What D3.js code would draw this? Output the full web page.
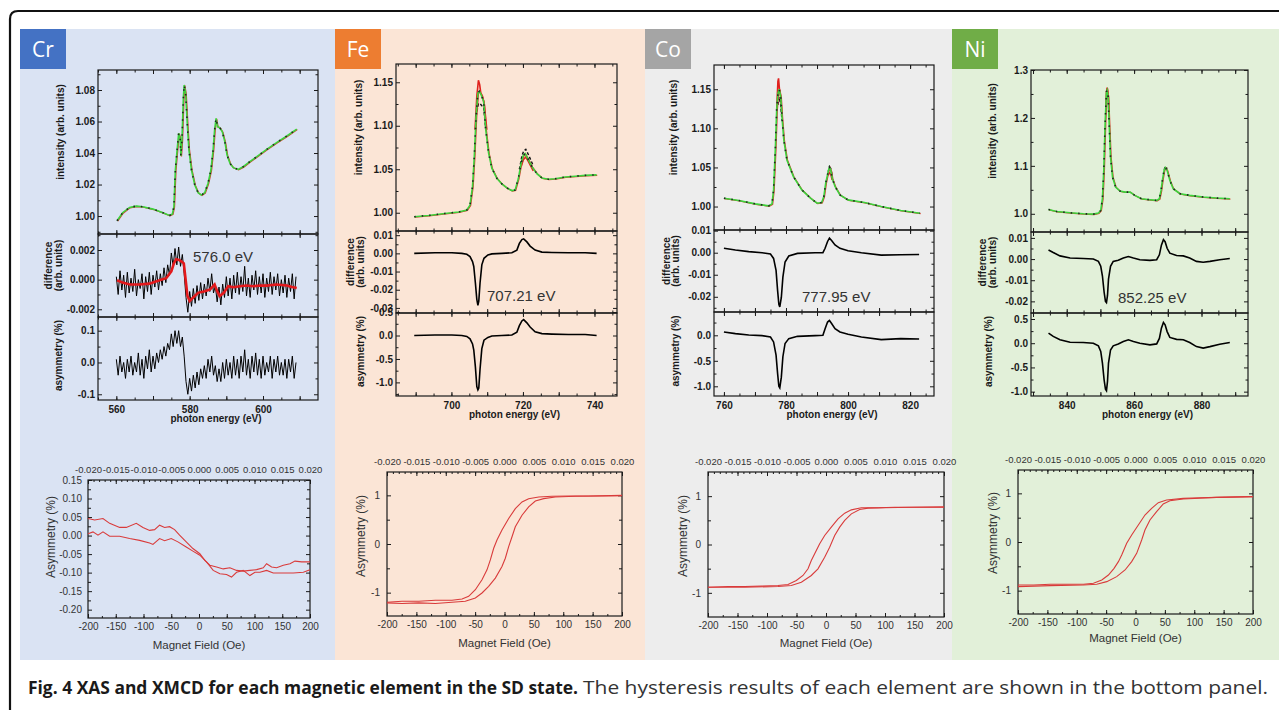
<!DOCTYPE html>
<html>
<head>
<meta charset="utf-8">
<script src="https://cdn.jsdelivr.net/npm/d3@7/dist/d3.min.js"></script>
<style>
  body { margin: 0; background: #fff; }
  svg { display: block; }
</style>
</head>
<body>
<script>

var W = 1279, H = 710;
var FONT = '"Liberation Sans", Arial, sans-serif';

// ---- labels ----
var elements = ['Cr', 'Fe', 'Co', 'Ni'];
var edgeLabels = ['576.0 eV', '707.21 eV', '777.95 eV', '852.25 eV'];
var captionBold = 'Fig. 4 XAS and XMCD for each magnetic element in the SD state.';
var captionRest = 'The hysteresis results of each element are shown in the bottom panel.';

// ---- tick labels ----
var crEnergyTicks = [560, 580, 600];
var feEnergyTicks = [700, 720, 740];
var coEnergyTicks = [760, 780, 800, 820];
var niEnergyTicks = [840, 860, 880];

var crIntTicks = [1.00, 1.02, 1.04, 1.06, 1.08];
var crDiffTicks = [-0.002, 0.000, 0.002];
var crAsymTicks = [-0.1, 0.0, 0.1];
var feIntTicks = [1.00, 1.05, 1.10, 1.15];
var feDiffTicks = [-0.03, -0.02, -0.01, 0.00, 0.01];
var feAsymTicks = [-1.0, -0.5, 0.0, 0.5];
var coIntTicks = [1.00, 1.05, 1.10, 1.15];
var coDiffTicks = [-0.02, -0.01, 0.00, 0.01];
var coAsymTicks = [-1.0, -0.5, 0.0];
var niIntTicks = [1.0, 1.1, 1.2, 1.3];
var niDiffTicks = [-0.02, -0.01, 0.00, 0.01];
var niAsymTicks = [-1.0, -0.5, 0.0, 0.5];

var fieldTicks = [-200, -150, -100, -50, 0, 50, 100, 150, 200];
var teslaTicks = [-0.020, -0.015, -0.010, -0.005, 0.000, 0.005, 0.010, 0.015, 0.020];
var crHystTicks = [-0.20, -0.15, -0.10, -0.05, 0.00, 0.05, 0.10, 0.15];
var hystTicks = [-1, 0, 1];

// ---- Cr spectra ----
var crIntensity = [[560.2,0.997],[561.7,1.0021],[563.6,1.0055],[565.4,1.0063],[567.2,1.0059],[570.0,1.0044],[572.7,1.0021],[574.5,1.0004],[575.3,1.0013],[575.7,1.0059],[576.1,1.0292],[576.5,1.0398],[577.0,1.0525],[577.4,1.0493],[577.6,1.0381],[577.9,1.0482],[578.3,1.0758],[578.5,1.0832],[578.9,1.0779],[579.4,1.0567],[579.8,1.0419],[580.5,1.0292],[581.4,1.0197],[582.3,1.0148],[583.2,1.0133],[584.1,1.0148],[585.0,1.0207],[585.8,1.0292],[586.4,1.0419],[586.8,1.0546],[587.2,1.0620],[587.6,1.0567],[588.2,1.0561],[588.9,1.0535],[589.6,1.0472],[590.2,1.0387],[591.0,1.0334],[591.9,1.0307],[593.2,1.0296],[594.6,1.0313],[596.4,1.0345],[598.3,1.0377],[601.0,1.0423],[603.7,1.0466],[606.5,1.0508],[609.2,1.0552]];
// raw points every 0.5 eV from 560 eV
var crRawStart = 560, crRawStep = 0.5;
var crDiffRaw = [0.0002,-0.0010,0.0006,-0.0007,0.0003,-0.0012,0.0005,-0.0009,0.0001,-0.0008,
  0.0007,-0.0011,0.0000,-0.0006,0.0004,-0.0013,0.0002,-0.0008,0.0005,-0.0010,
  0.0003,-0.0005,0.0006,-0.0007,0.0004,-0.0004,0.0008,-0.0002,0.0010,0.0003,
  0.0018,0.0009,0.0021,0.0010,0.0022,0.0009,0.0017,0.0004,-0.0012,-0.0022,
  -0.0008,-0.0018,-0.0006,-0.0016,-0.0004,-0.0014,-0.0002,-0.0013,-0.0003,-0.0011,
  0.0001,-0.0008,0.0004,-0.0009,-0.0004,-0.0015,-0.0005,-0.0017,-0.0003,-0.0012,
  0.0002,-0.0011,0.0001,-0.0013,0.0003,-0.0009,0.0005,-0.0010,0.0002,-0.0008,
  0.0009,-0.0011,0.0001,-0.0012,0.0003,-0.0007,0.0006,-0.0010,0.0002,-0.0009,
  0.0004,-0.0012,0.0001,-0.0008,0.0005,-0.0010,0.0002,-0.0007,0.0004,-0.0011,
  0.0000,-0.0009,0.0003,-0.0012,0.0001,-0.0008,0.0004,-0.0013,0.0002];
var crDiffSmooth = [[560.2,-0.00004],[561.7,-0.0002],[563.6,-0.00033],[566.3,-0.00033],[569.0,-0.00027],[571.8,-0.00004],[573.6,0.0001],[575.0,0.00056],[575.7,0.0011],[576.3,0.00138],[577.1,0.00133],[577.8,0.00122],[578.4,0.0011],[578.8,0.00022],[579.4,-0.0011],[580.0,-0.00144],[580.9,-0.00122],[582.3,-0.00089],[584.1,-0.00078],[585.5,-0.00067],[586.4,-0.00044],[586.8,-0.00033],[587.5,-0.00078],[588.2,-0.0011],[589.3,-0.00089],[590.5,-0.00044],[591.9,-0.00051],[593.7,-0.00044],[595.5,-0.0004],[597.3,-0.00044],[599.2,-0.0004],[601.0,-0.0004],[603.7,-0.00033],[606.5,-0.0004],[607.9,-0.00049],[609.2,-0.00056]];
var crAsymRaw = [0.01,-0.04,0.02,-0.03,0.00,-0.05,0.01,-0.03,0.02,-0.04,
  0.00,-0.03,0.03,-0.04,0.01,-0.05,0.02,-0.02,0.04,-0.03,
  0.02,-0.02,0.03,0.00,0.04,0.01,0.05,0.02,0.06,0.04,
  0.09,0.05,0.10,0.06,0.10,0.05,0.08,0.02,-0.06,-0.10,
  -0.05,-0.09,-0.04,-0.08,-0.03,-0.07,-0.02,-0.05,-0.01,-0.05,
  0.01,-0.03,0.02,-0.04,-0.01,-0.06,-0.02,-0.06,0.00,-0.05,
  0.01,-0.04,0.00,-0.05,0.02,-0.04,0.01,-0.05,0.02,-0.03,
  0.04,-0.04,0.01,-0.05,0.02,-0.03,0.03,-0.04,0.01,-0.05,
  0.02,-0.04,0.00,-0.03,0.02,-0.05,0.01,-0.03,0.02,-0.04,
  0.00,-0.04,0.01,-0.05,0.01,-0.03,0.02,-0.05,0.00];

// ---- Fe spectra ----
var feIntensity = [[689.6,0.9954],[693.6,0.9969],[698.2,0.9992],[702.0,1.0008],[704.3,1.0031],[705.2,1.0088],[705.9,1.030],[706.4,1.0646],[706.9,1.1108],[707.4,1.1377],[707.8,1.1396],[708.3,1.1358],[709.0,1.128],[709.6,1.0954],[710.4,1.0685],[711.3,1.0512],[712.7,1.0396],[714.1,1.0331],[715.5,1.0285],[716.9,1.0255],[717.8,1.026],[718.7,1.039],[719.5,1.057],[720.1,1.066],[720.6,1.068],[721.4,1.062],[722.5,1.053],[723.9,1.045],[725.3,1.040],[727.1,1.0385],[729.0,1.039],[731.8,1.041],[734.6,1.042],[737.4,1.043],[740.6,1.0435]];
var fePlusPeaks = [[[706.6,1.0954],[707.1,1.1338],[707.55,1.1523],[707.9,1.1473],[708.2,1.1377],[708.7,1.1338],[709.2,1.1242],[709.9,1.0954]],
  [[719.5,1.053],[720.1,1.061],[720.8,1.064],[721.5,1.059],[722.9,1.048]]];
var feMinusPeaks = [[[706.9,1.1108],[707.55,1.1254],[708.0,1.1254],[708.5,1.123],[709.0,1.1215],[709.6,1.0954]],
  [[719.0,1.050],[719.7,1.065],[720.2,1.071],[720.8,1.073],[721.5,1.067],[722.9,1.054]]];
var feDiff = [[689.6,0],[695.4,0.0003],[700.1,0.0003],[702.9,0],[704.3,-0.0005],[705.2,-0.0018],[705.9,-0.0045],[706.25,-0.0072],[706.7,-0.0163],[707.1,-0.0253],[707.4,-0.0286],[707.65,-0.0263],[708.0,-0.0163],[708.5,-0.0063],[709.1,-0.0027],[710.2,-0.0009],[711.3,-0.0003],[714.1,0],[716.9,0.0003],[718.3,0.0018],[719.0,0.0055],[719.7,0.0076],[720.2,0.008],[721.1,0.0063],[722.0,0.004],[723.4,0.0018],[725.3,0.0007],[728.1,0.0005],[732.7,0.0003],[737.4,0.0003],[740.6,0]];
var feAsym = [[689.6,0],[695.4,0.01],[700.1,0.01],[702.9,0],[704.3,-0.02],[705.2,-0.07],[705.9,-0.18],[706.25,-0.31],[706.7,-0.67],[707.1,-1.09],[707.4,-1.16],[707.65,-1.12],[708.0,-0.72],[708.5,-0.28],[709.1,-0.1],[710.2,-0.04],[711.3,-0.01],[714.1,0],[716.9,0.01],[718.3,0.07],[719.0,0.21],[719.7,0.31],[720.2,0.34],[721.1,0.27],[722.0,0.18],[723.4,0.08],[725.3,0.04],[728.1,0.03],[732.7,0.02],[737.4,0.02],[740.6,0]];

// ---- Co spectra ----
var coIntensity = [[760.0,1.0107],[764.8,1.0077],[770.1,1.0034],[774.4,1.0009],[775.5,1.0034],[776.0,1.0213],[776.6,1.0767],[777.0,1.1235],[777.4,1.1448],[777.8,1.15],[778.3,1.1406],[778.7,1.115],[779.3,1.0852],[780.3,1.0596],[782.4,1.0383],[785.1,1.0213],[787.9,1.0107],[790.0,1.0043],[791.5,1.0051],[792.2,1.0128],[792.8,1.0298],[793.6,1.0447],[794.0,1.0503],[794.4,1.0469],[794.9,1.0362],[795.8,1.0256],[797.4,1.0149],[800.0,1.0085],[805.3,1.0051],[810.7,1.0],[817.0,0.9949],[823.2,0.9915]];
var coPlusPeaks = [[[777.0,1.1235],[777.4,1.160],[777.6,1.164],[777.9,1.15],[778.3,1.14],[778.7,1.115]],
  [[793.6,1.040],[794.0,1.043],[794.4,1.042],[794.9,1.034]]];
var coMinusPeaks = [[[777.4,1.13],[777.8,1.14],[778.3,1.13],[778.7,1.11]],
  [[793.6,1.0447],[794.0,1.051],[794.4,1.049],[794.9,1.040]]];
var coDiff = [[760.0,0.002],[763.7,0.0012],[768.0,0.0005],[772.3,0],[775.0,-0.0006],[776.0,-0.0026],[776.8,-0.008],[777.3,-0.0172],[777.7,-0.0234],[778.0,-0.0246],[778.5,-0.0203],[779.0,-0.0111],[779.7,-0.0042],[780.9,-0.0015],[783.7,-0.0003],[789.4,0],[791.9,0],[792.6,0.002],[793.4,0.0051],[794.0,0.0066],[794.7,0.0055],[795.8,0.0035],[797.4,0.002],[800.0,0.0009],[804.3,0],[810.7,-0.0011],[817.0,-0.0009],[822.9,-0.0008]];
var coAsym = [[760.0,0.065],[763.7,0.033],[768.0,0.007],[772.3,-0.007],[775.0,-0.033],[776.0,-0.13],[776.8,-0.39],[777.3,-0.75],[777.7,-1.0],[778.0,-1.03],[778.5,-0.82],[779.0,-0.42],[779.7,-0.16],[780.9,-0.065],[783.7,-0.02],[789.4,-0.007],[791.9,0],[792.6,0.13],[793.4,0.26],[794.0,0.29],[794.7,0.23],[795.8,0.13],[797.4,0.065],[800.0,0.02],[804.3,-0.033],[810.7,-0.085],[817.0,-0.065],[822.9,-0.072]];

// ---- Ni spectra ----
var niIntensity = [[834.6,1.0091],[837.0,1.0049],[841.0,1.0021],[844.9,1.0],[847.9,0.9993],[849.4,1.0014],[850.1,1.007],[850.6,1.0314],[851.0,1.0907],[851.4,1.1884],[851.8,1.2547],[852.0,1.2581],[852.3,1.2442],[852.6,1.1884],[853.0,1.1186],[853.6,1.0767],[854.5,1.0558],[855.8,1.0474],[857.3,1.0453],[858.8,1.0453],[860.2,1.0384],[862.2,1.0314],[864.7,1.0293],[866.7,1.0279],[867.5,1.0314],[868.0,1.0488],[868.4,1.0698],[868.9,1.0907],[869.3,1.0963],[869.8,1.0907],[870.6,1.0698],[871.6,1.0523],[873.6,1.0419],[876.5,1.0384],[880.5,1.0349],[884.4,1.0328],[888.4,1.0314]];
var niPlusPeaks = [[[851.6,1.225],[851.8,1.2547],[852.0,1.263],[852.3,1.25],[852.5,1.21]]];
var niMinusPeaks = [[[851.8,1.24],[852.0,1.248],[852.3,1.244]], [[868.9,1.092],[869.3,1.099],[869.8,1.094]]];
var niDiff = [[834.6,0.0043],[836.0,0.0031],[838.0,0.0015],[841.0,0.0005],[844.9,0.0003],[847.9,0],[849.4,-0.0011],[850.1,-0.0034],[850.6,-0.008],[851.1,-0.0157],[851.5,-0.02],[851.8,-0.0206],[852.1,-0.0172],[852.4,-0.0095],[853.0,-0.0034],[853.8,-0.0011],[855.3,-0.0006],[856.8,0.0005],[858.3,0.0012],[859.8,0.0005],[861.7,-0.0003],[864.7,-0.0006],[866.7,-0.0003],[867.5,0.002],[868.1,0.0066],[868.7,0.0092],[869.2,0.0082],[869.8,0.0051],[870.6,0.0028],[872.6,0.0017],[874.6,0.0015],[876.5,0.0005],[878.5,-0.0011],[880.5,-0.0015],[882.5,-0.0011],[885.4,-0.0003],[888.4,0.0003]];
var niAsym = [[834.6,0.21],[836.0,0.14],[838.0,0.07],[841.0,0.02],[844.9,0.014],[847.9,0],[849.4,-0.055],[850.1,-0.17],[850.6,-0.41],[851.1,-0.76],[851.5,-0.95],[851.8,-0.98],[852.1,-0.79],[852.4,-0.41],[853.0,-0.14],[853.8,-0.055],[855.3,-0.014],[856.8,0.034],[858.3,0.07],[859.8,0.034],[861.7,0],[864.7,-0.034],[866.7,-0.014],[867.5,0.1],[868.1,0.31],[868.7,0.43],[869.2,0.38],[869.8,0.24],[870.6,0.12],[872.6,0.08],[874.6,0.07],[876.5,0.014],[878.5,-0.07],[880.5,-0.1],[882.5,-0.07],[885.4,-0.02],[888.4,0.014]];

// ---- hysteresis loops (field Oe, asymmetry %) ----
var crLoopA = [[-200,0.046],[-188,0.042],[-173,0.046],[-161,0.033],[-143,0.022],[-131,0.022],[-113,0.033],[-101,0.022],[-89,0.014],[-80,0.016],[-71,0.028],[-62,0.022],[-53,0.024],[-44,0.016],[-35,0.001],[-23,-0.017],[-11,-0.035],[1.5,-0.049],[10.5,-0.067],[19.5,-0.080],[31.6,-0.085],[43.6,-0.09],[55.6,-0.087],[67.7,-0.094],[79.7,-0.096],[91.7,-0.094],[103.8,-0.092],[115.8,-0.087],[121.8,-0.076],[130.8,-0.085],[139.8,-0.087],[151.9,-0.080],[163.9,-0.076],[172.9,-0.069],[184.9,-0.071],[200,-0.071]];
var crLoopB = [[-200,0.005],[-191,0.010],[-182,0.001],[-173,0.010],[-161,-0.002],[-143,-0.002],[-125,-0.008],[-107,-0.013],[-89,-0.020],[-83,-0.024],[-71,-0.008],[-62,-0.014],[-50,-0.008],[-38,-0.017],[-23,-0.031],[-11,-0.042],[1.5,-0.053],[13.5,-0.071],[25.6,-0.094],[37.6,-0.103],[49.6,-0.105],[58.6,-0.112],[67.7,-0.099],[79.7,-0.094],[91.7,-0.108],[100.8,-0.099],[109.8,-0.099],[121.8,-0.094],[133.8,-0.101],[151.9,-0.101],[169.9,-0.101],[188,-0.099],[200,-0.092]];
var feLoopA = [[-200,-1.197],[-174.5,-1.177],[-146,-1.177],[-117.7,-1.156],[-89.4,-1.156],[-72.3,-1.129],[-61,-1.075],[-49.6,-0.939],[-38.3,-0.735],[-29.8,-0.531],[-24.1,-0.327],[-18.4,-0.088],[-12.8,0.082],[-4.3,0.286],[7.1,0.524],[18.4,0.728],[29.8,0.864],[41.1,0.932],[58.2,0.966],[80.9,0.98],[109.2,0.986],[143.3,0.986],[200,1.0]];
var feLoopB = [[-200,-1.211],[-174.5,-1.224],[-146,-1.211],[-117.7,-1.224],[-89.4,-1.197],[-66.7,-1.177],[-49.6,-1.109],[-38.3,-1.007],[-27,-0.871],[-15.6,-0.701],[-4.3,-0.463],[1.4,-0.293],[7.1,-0.054],[12.8,0.15],[18.4,0.354],[29.8,0.592],[41.1,0.762],[52.5,0.884],[66.7,0.932],[86.5,0.966],[120.6,0.98],[166,0.986],[200,0.993]];
var coLoopA = [[-200,-0.883],[-166,-0.869],[-137.9,-0.869],[-109.6,-0.862],[-81.4,-0.848],[-64.4,-0.828],[-50.3,-0.745],[-39,-0.641],[-30.5,-0.503],[-24.9,-0.331],[-19.2,-0.193],[-10.7,0.014],[-2.25,0.186],[9,0.359],[20.4,0.531],[31.7,0.648],[43,0.717],[59.9,0.759],[88.2,0.759],[116.4,0.772],[144.7,0.772],[200,0.772]];
var coLoopB = [[-200,-0.883],[-137.9,-0.883],[-81.4,-0.869],[-58.8,-0.848],[-41.8,-0.779],[-24.9,-0.641],[-13.6,-0.503],[-2.3,-0.262],[6.2,-0.055],[14.7,0.186],[23.2,0.359],[31.7,0.497],[43,0.634],[57.1,0.724],[71.2,0.752],[99.5,0.759],[144.7,0.772],[200,0.779]];
var niLoopA = [[-200,-0.884],[-173.4,-0.884],[-145.1,-0.87],[-116.8,-0.87],[-88.5,-0.87],[-71.6,-0.849],[-57.4,-0.781],[-46.1,-0.678],[-36.5,-0.541],[-29.1,-0.404],[-23.5,-0.267],[-15,-0.027],[-6.5,0.144],[4.8,0.349],[16.1,0.555],[27.5,0.692],[38.8,0.808],[52.9,0.863],[81.2,0.897],[109.5,0.911],[137.8,0.918],[200,0.932]];
var niLoopB = [[-200,-0.918],[-145.1,-0.897],[-88.5,-0.884],[-65.9,-0.87],[-48.9,-0.815],[-32,-0.712],[-17.8,-0.575],[-6.5,-0.404],[2,-0.233],[10.5,0.041],[16.1,0.247],[24.6,0.452],[35.9,0.623],[47.2,0.781],[58.6,0.849],[81.2,0.884],[137.8,0.918],[200,0.932]];

// ---- layout ----
var columns = [
  {x0: 20, x1: 335, bg: '#dae3f3', tag: '#4472c4'},
  {x0: 335, x1: 645, bg: '#fbe5d6', tag: '#ed7d31'},
  {x0: 645, x1: 952, bg: '#ededed', tag: '#a5a5a5'},
  {x0: 952, x1: 1279, bg: '#e2f0d9', tag: '#70ad47'}
];

function fmt(spec) {
  var f = d3.format(spec);
  return function(d) { return f(d).replace('\u2212', '-'); };
}

var crRawE = crDiffRaw.map(function(v, i) { return crRawStart + i * crRawStep; });

var xas = [
  {box: {left: 98, right: 318, y: [70, 234, 317, 400]}, xdom: [555, 615],
   intDom: [0.9886, 1.0927], diffDom: [-0.00252, 0.00308], asymDom: [-0.118, 0.143],
   intTicks: crIntTicks, intMinor: [0.99, 1.01, 1.03, 1.05, 1.07, 1.09], intFmt: fmt('.2f'),
   diffTicks: crDiffTicks, diffMinor: [-0.001, 0.001, 0.003], diffFmt: fmt('.3f'),
   asymTicks: crAsymTicks, asymMinor: [-0.05, 0.05], asymFmt: fmt('.1f'),
   eTicks: crEnergyTicks, labX: [60, 48, 58, 58], note: [193, 262],
   intensity: crIntensity, plus: [], minus: [],
   diffRaw: crRawE.map(function(e, i) { return [e, crDiffRaw[i]]; }), diffSmooth: crDiffSmooth,
   asym: crRawE.map(function(e, i) { return [e, crAsymRaw[i]]; }), thin: true},
  {box: {left: 396, right: 617, y: [64, 231, 313, 396]}, xdom: [684.5, 746.3],
   intDom: [0.979, 1.171], diffDom: [-0.0328, 0.0123], asymDom: [-1.29, 0.48],
   intTicks: feIntTicks, intMinor: [1.025, 1.075, 1.125], intFmt: fmt('.2f'),
   diffTicks: feDiffTicks, diffMinor: [-0.025, -0.015, -0.005, 0.005], diffFmt: fmt('.2f'),
   asymTicks: feAsymTicks, asymMinor: [-1.25, -0.75, -0.25, 0.25], asymFmt: fmt('.1f'),
   eTicks: feEnergyTicks, labX: [358, 350, 360, 360], note: [487, 301],
   intensity: feIntensity, plus: fePlusPeaks, minus: feMinusPeaks,
   diffRaw: feDiff, asym: feAsym},
  {box: {left: 714, right: 934, y: [65, 230, 312, 396]}, xdom: [756.8, 827.7],
   intDom: [0.970, 1.181], diffDom: [-0.0269, 0.0103], asymDom: [-1.19, 0.457],
   intTicks: coIntTicks, intMinor: [1.025, 1.075, 1.125], intFmt: fmt('.2f'),
   diffTicks: coDiffTicks, diffMinor: [-0.025, -0.015, -0.005, 0.005], diffFmt: fmt('.2f'),
   asymTicks: coAsymTicks, asymMinor: [-0.75, -0.25, 0.25], asymFmt: fmt('.1f'),
   eTicks: coEnergyTicks, labX: [673, 666, 675, 675], note: [802, 302],
   intensity: coIntensity, plus: coPlusPeaks, minus: coMinusPeaks,
   diffRaw: coDiff, asym: coAsym},
  {box: {left: 1031, right: 1248, y: [70, 232, 313, 396]}, xdom: [829.4, 893.8],
   intDom: [0.962, 1.3], diffDom: [-0.0255, 0.0128], asymDom: [-1.09, 0.624],
   intTicks: niIntTicks, intMinor: [1.05, 1.15, 1.25], intFmt: fmt('.1f'),
   diffTicks: niDiffTicks, diffMinor: [-0.015, -0.005, 0.005], diffFmt: fmt('.2f'),
   asymTicks: niAsymTicks, asymMinor: [-0.75, -0.25, 0.25], asymFmt: fmt('.1f'),
   eTicks: niEnergyTicks, labX: [992, 982, 992, 988], note: [1118, 303],
   intensity: niIntensity, plus: niPlusPeaks, minus: niMinusPeaks,
   diffRaw: niDiff, asym: niAsym}
];

var loops = [
  {left: 88, right: 310, top: 480, bottom: 618, ydom: [-0.2225, 0.15], ticks: crHystTicks,
   minor: [-0.175, -0.125, -0.075, -0.025, 0.025, 0.075, 0.125], f: fmt('.2f'), lpad: 6,
   ylab: [51, 537], xlabY: 649, a: crLoopA, b: crLoopB},
  {left: 387, right: 622, top: 472, bottom: 616, ydom: [-1.48, 1.48], ticks: hystTicks,
   minor: [-0.5, 0.5], f: fmt('d'), lpad: 7, ylab: [361, 536], xlabY: 647, a: feLoopA, b: feLoopB},
  {left: 708, right: 944, top: 472, bottom: 617, ydom: [-1.5, 1.5], ticks: hystTicks,
   minor: [-0.5, 0.5], f: fmt('d'), lpad: 7, ylab: [683, 536], xlabY: 647, a: coLoopA, b: coLoopB},
  {left: 1018, right: 1253, top: 470, bottom: 614, ydom: [-1.48, 1.48], ticks: hystTicks,
   minor: [-0.5, 0.5], f: fmt('d'), lpad: 7, ylab: [993, 533], xlabY: 642, a: niLoopA, b: niLoopB}
];

var svg = d3.select('body').append('svg').attr('width', W).attr('height', H);

// backgrounds and element tags
columns.forEach(function(c, i) {
  svg.append('rect').attr('x', c.x0).attr('y', 29).attr('width', c.x1 - c.x0).attr('height', 631).attr('fill', c.bg);
});
columns.forEach(function(c, i) {
  svg.append('rect').attr('x', c.x0).attr('y', 29).attr('width', 46).attr('height', 40).attr('fill', c.tag);
  svg.append('text').attr('x', c.x0 + 23).attr('y', 57).attr('text-anchor', 'middle')
    .attr('font-family', '"Open Sans", sans-serif').attr('font-size', 21).attr('fill', '#fff').text(elements[i]);
});

// outer frame
svg.append('path').attr('d', 'M10,712 L10,19 Q10,11 18,11 L1281,11')
  .attr('fill', 'none').attr('stroke', '#111').attr('stroke-width', 2.2);

function axis(g, orient, scale, pos, vals, len, format, pad, size, weight, color) {
  var a = orient(scale).tickValues(vals).tickSizeInner(-len).tickSizeOuter(0)
    .tickPadding(pad || 3).tickFormat(format || function() { return ''; });
  var vert = orient === d3.axisLeft || orient === d3.axisRight;
  var s = g.append('g').attr('transform', vert ? 'translate(' + pos + ',0)' : 'translate(0,' + pos + ')').call(a);
  s.select('.domain').remove();
  s.attr('font-family', FONT).attr('font-size', size || 10).attr('font-weight', weight || 'bold');
  s.selectAll('line').attr('stroke', '#1a1a1a').attr('stroke-width', 1);
  s.selectAll('text').attr('fill', color || '#1a1a1a');
  return s;
}

function drawXAS(P) {
  var L = P.box;
  var g = svg.append('g');
  var x = d3.scaleLinear().domain(P.xdom).range([L.left, L.right]);
  var yI = d3.scaleLinear().domain(P.intDom).range([L.y[1], L.y[0]]);
  var yD = d3.scaleLinear().domain(P.diffDom).range([L.y[2], L.y[1]]);
  var yA = d3.scaleLinear().domain(P.asymDom).range([L.y[3], L.y[2]]);
  var rows = [
    {y: yI, top: L.y[0], bot: L.y[1], t: P.intTicks, m: P.intMinor, f: P.intFmt},
    {y: yD, top: L.y[1], bot: L.y[2], t: P.diffTicks, m: P.diffMinor, f: P.diffFmt},
    {y: yA, top: L.y[2], bot: L.y[3], t: P.asymTicks, m: P.asymMinor, f: P.asymFmt}
  ];
  var e10 = d3.range(Math.ceil(P.xdom[0] / 10) * 10, P.xdom[1], 10);
  var e5 = d3.range(Math.ceil(P.xdom[0] / 5) * 5, P.xdom[1], 5);

  rows.forEach(function(r) {
    g.append('rect').attr('x', L.left).attr('y', r.top).attr('width', L.right - L.left)
      .attr('height', r.bot - r.top).attr('fill', 'none').attr('stroke', '#1a1a1a').attr('stroke-width', 1.2);
    axis(g, d3.axisLeft, r.y, L.left, r.t, 4, r.f, 3);
    axis(g, d3.axisLeft, r.y, L.left, r.m, 2.5);
    axis(g, d3.axisRight, r.y, L.right, r.t, 4);
    axis(g, d3.axisRight, r.y, L.right, r.m, 2.5);
    axis(g, d3.axisTop, x, r.top, e10, 4);
    axis(g, d3.axisTop, x, r.top, e5, 2.5);
    axis(g, d3.axisBottom, x, r.bot, e10, 4);
    axis(g, d3.axisBottom, x, r.bot, e5, 2.5);
  });
  axis(g, d3.axisBottom, x, L.y[3], P.eTicks, 0, fmt('d'), 6);

  var midX = (L.left + L.right) / 2 + 8;
  g.append('text').attr('x', midX).attr('y', L.y[3] + 22).attr('text-anchor', 'middle')
    .attr('font-family', FONT).attr('font-weight', 'bold').attr('font-size', 10).attr('fill', '#1a1a1a')
    .text('photon energy (eV)');

  function ylab(x0, yc, s) {
    g.append('text').attr('transform', 'translate(' + x0 + ',' + yc + ') rotate(-90)')
      .attr('text-anchor', 'middle').attr('dominant-baseline', 'central')
      .attr('font-family', FONT).attr('font-weight', 'bold').attr('font-size', 10).attr('fill', '#1a1a1a').text(s);
  }
  ylab(P.labX[0], (L.y[0] + L.y[1]) / 2 - 20, 'intensity (arb. units)');
  ylab(P.labX[1], (L.y[1] + L.y[2]) / 2 - 10, 'difference');
  ylab(P.labX[2], (L.y[1] + L.y[2]) / 2 - 10, '(arb. units)');
  ylab(P.labX[3], (L.y[2] + L.y[3]) / 2 - 3, 'asymmetry (%)');

  var lineI = d3.line().x(function(d) { return x(d[0]); }).y(function(d) { return yI(d[1]); });
  var lineD = d3.line().x(function(d) { return x(d[0]); }).y(function(d) { return yD(d[1]); });
  var lineA = d3.line().x(function(d) { return x(d[0]); }).y(function(d) { return yA(d[1]); });

  P.plus.forEach(function(seg) {
    g.append('path').attr('d', lineI(seg)).attr('fill', 'none').attr('stroke', '#e0201c').attr('stroke-width', 1.6);
  });
  P.minus.forEach(function(seg) {
    g.append('path').attr('d', lineI(seg)).attr('fill', 'none').attr('stroke', '#111').attr('stroke-width', 1.4)
      .attr('stroke-dasharray', '3,2');
  });
  g.append('path').attr('d', lineI(P.intensity)).attr('fill', 'none').attr('stroke', '#d83a2a').attr('stroke-width', 1.3)
    .attr('transform', 'translate(0.6,0.4)');
  g.append('path').attr('d', lineI(P.intensity)).attr('fill', 'none').attr('stroke', '#3cd23c').attr('stroke-width', 1.6);
  g.append('path').attr('d', lineI(P.intensity)).attr('fill', 'none').attr('stroke', '#222').attr('stroke-width', 1.6)
    .attr('stroke-dasharray', '1.5,6');

  g.append('path').attr('d', lineD(P.diffRaw)).attr('fill', 'none').attr('stroke', '#000')
    .attr('stroke-width', P.thin ? 1 : 1.6);
  if (P.diffSmooth) {
    g.append('path').attr('d', lineD(P.diffSmooth)).attr('fill', 'none').attr('stroke', '#e3191c').attr('stroke-width', 2.6);
  }
  g.append('path').attr('d', lineA(P.asym)).attr('fill', 'none').attr('stroke', '#000')
    .attr('stroke-width', P.thin ? 1 : 1.6);
}

function drawLoop(Q) {
  var g = svg.append('g');
  var x = d3.scaleLinear().domain([-200, 200]).range([Q.left, Q.right]);
  var xt = d3.scaleLinear().domain([-0.02, 0.02]).range([Q.left, Q.right]);
  var y = d3.scaleLinear().domain(Q.ydom).range([Q.bottom, Q.top]);
  var col = '#333';

  g.append('rect').attr('x', Q.left).attr('y', Q.top).attr('width', Q.right - Q.left)
    .attr('height', Q.bottom - Q.top).attr('fill', 'none').attr('stroke', '#1a1a1a').attr('stroke-width', 1.2);

  axis(g, d3.axisBottom, x, Q.bottom, fieldTicks, 4, fmt('d'), 5, 10, 'normal', col);
  axis(g, d3.axisBottom, x, Q.bottom, d3.range(-175, 200, 25), 2);
  axis(g, d3.axisTop, xt, Q.top, teslaTicks, 4, fmt('.3f'), 7, 9.5, 'normal', col);
  axis(g, d3.axisTop, xt, Q.top, d3.range(-0.019, 0.0195, 0.001), 2);
  axis(g, d3.axisLeft, y, Q.left, Q.ticks, 4, Q.f, Q.lpad, 10, 'normal', col);
  axis(g, d3.axisLeft, y, Q.left, Q.minor, 3);
  axis(g, d3.axisRight, y, Q.right, Q.ticks, 4);
  axis(g, d3.axisRight, y, Q.right, Q.minor, 3);

  g.append('text').attr('x', (Q.left + Q.right) / 2).attr('y', Q.xlabY).attr('text-anchor', 'middle')
    .attr('font-family', FONT).attr('font-size', 11.5).attr('fill', col).text('Magnet Field (Oe)');
  g.append('text').attr('transform', 'translate(' + Q.ylab[0] + ',' + Q.ylab[1] + ') rotate(-90)')
    .attr('text-anchor', 'middle').attr('dominant-baseline', 'central')
    .attr('font-family', FONT).attr('font-size', 12).attr('fill', col).text('Asymmetry (%)');

  var line = d3.line().x(function(d) { return x(d[0]); }).y(function(d) { return y(d[1]); });
  [Q.a, Q.b].forEach(function(br) {
    g.append('path').attr('d', line(br)).attr('fill', 'none').attr('stroke', '#d93b3b').attr('stroke-width', 1.1);
  });
}

xas.forEach(drawXAS);
loops.forEach(drawLoop);

// edge energy notes
xas.forEach(function(P, i) {
  svg.append('text').attr('x', P.note[0]).attr('y', P.note[1])
    .attr('font-family', FONT).attr('font-size', 15).attr('fill', '#333').text(edgeLabels[i]);
});

// caption
svg.append('text').attr('x', 28).attr('y', 694)
  .attr('font-family', '"Open Sans", sans-serif').attr('font-weight', 'bold').attr('font-size', 17.5)
  .attr('fill', '#1a1a1a').attr('textLength', 550).attr('lengthAdjust', 'spacingAndGlyphs').text(captionBold);
svg.append('text').attr('x', 583).attr('y', 694)
  .attr('font-family', '"Open Sans", sans-serif').attr('font-size', 18.5)
  .attr('fill', '#333').attr('textLength', 685).attr('lengthAdjust', 'spacingAndGlyphs').text(captionRest);

</script>
</body>
</html>
